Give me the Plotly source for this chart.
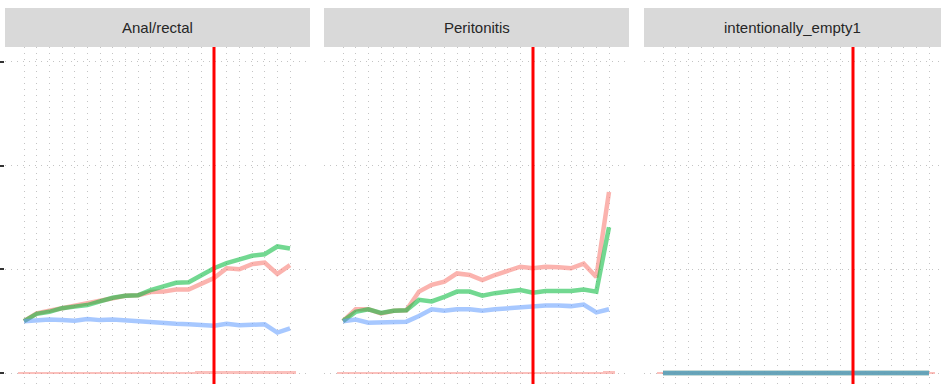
import plotly.graph_objects as go

# Years on the x axis; the vertical marker sits at the intervention year
years = list(range(2000, 2022))
marker_year = 2015

panels = ["Anal/rectal", "Peritonitis", "intentionally_empty1"]

# Relative index per series (1 = baseline year)
anal_red = [1.00, 1.15, 1.20, 1.25, 1.29, 1.34, 1.39, 1.46, 1.49, 1.50, 1.56,
            1.57, 1.61, 1.61, 1.73, 1.83, 2.02, 2.00, 2.10, 2.13, 1.91, 2.08]
anal_green = [1.00, 1.14, 1.18, 1.25, 1.28, 1.31, 1.38, 1.45, 1.49, 1.50, 1.60,
              1.66, 1.74, 1.75, 1.89, 2.02, 2.12, 2.18, 2.26, 2.29, 2.44, 2.40]
anal_blue = [1.00, 1.02, 1.03, 1.02, 1.01, 1.04, 1.02, 1.03, 1.01, 1.00, 0.97,
             0.96, 0.95, 0.94, 0.93, 0.91, 0.95, 0.92, 0.93, 0.94, 0.78, 0.86]

perit_red = [1.00, 1.23, 1.23, 1.15, 1.20, 1.21, 1.57, 1.70, 1.76, 1.92, 1.89,
             1.79, 1.89, 1.97, 2.05, 2.02, 2.05, 2.04, 2.02, 2.11, 1.85, 3.49]
perit_green = [1.00, 1.18, 1.23, 1.16, 1.20, 1.21, 1.41, 1.38, 1.47, 1.57, 1.57,
               1.49, 1.54, 1.58, 1.60, 1.55, 1.58, 1.58, 1.58, 1.61, 1.57, 2.81]
perit_blue = [1.00, 1.03, 0.97, 0.98, 0.99, 0.99, 1.10, 1.23, 1.20, 1.23, 1.23,
              1.20, 1.23, 1.25, 1.28, 1.30, 1.30, 1.30, 1.29, 1.32, 1.17, 1.23]

empty_red = [0.0] * 22
empty_green = [0.0] * 22
empty_blue = [0.0] * 22

# Small case-count bars along the baseline
anal_counts = [0.02] * 14 + [0.035] * 8
perit_counts = [0.006] * 21 + [0.03]
empty_counts = [0.01] * 22

series = [
    (anal_red, anal_green, anal_blue, anal_counts),
    (perit_red, perit_green, perit_blue, perit_counts),
    (empty_red, empty_green, empty_blue, empty_counts),
]

y_ticks = [0, 2, 4, 6]

W, H = 941, 384
panel_px = [(5, 310), (324, 629), (644, 941)]
strip_top, strip_bottom = 8, 47

RED, GREEN, BLUE = "#F8766D", "#00BA38", "#619CFF"
GRID = "#c4c4c4"

fig = go.Figure()

for i, (r, g, b, counts) in enumerate(series):
    xa = "x" if i == 0 else f"x{i+1}"
    ya = "y" if i == 0 else f"y{i+1}"
    fig.add_trace(go.Bar(x=years, y=counts, xaxis=xa, yaxis=ya,
                         marker=dict(color=RED, line=dict(width=0)),
                         opacity=0.45, width=1.0, showlegend=False,
                         hoverinfo="skip"))
    for vals, col in ((r, RED), (g, GREEN), (b, BLUE)):
        fig.add_trace(go.Scatter(x=years, y=vals, xaxis=xa, yaxis=ya,
                                 mode="lines",
                                 line=dict(color=col, width=4.5),
                                 opacity=0.55, showlegend=False))

layout = dict(
    width=W, height=H,
    margin=dict(l=0, r=0, t=0, b=0),
    paper_bgcolor="white", plot_bgcolor="white",
    bargap=0, barmode="overlay",
    shapes=[], annotations=[],
)

x_step = 266 / 21  # pixels per year
y_top = 1 - strip_bottom / H

for i, (x0, x1) in enumerate(panel_px):
    sfx = "" if i == 0 else str(i + 1)
    first_px = x0 + 19
    lo = years[0] - (first_px - x0) / x_step
    hi = years[0] + (x1 - first_px) / x_step
    layout[f"xaxis{sfx}"] = dict(
        domain=[x0 / W, x1 / W], range=[lo, hi],
        anchor=f"y{sfx}", tickmode="array", tickvals=years,
        showticklabels=False, ticks="",
        showgrid=True, gridcolor=GRID, griddash="1px,5px", gridwidth=1,
        zeroline=False, showline=False,
    )
    layout[f"yaxis{sfx}"] = dict(
        domain=[0, y_top], range=[-0.212, 6.287],
        anchor=f"x{sfx}", tickmode="array", tickvals=y_ticks,
        showticklabels=False,
        ticks="outside" if i == 0 else "", ticklen=5, tickwidth=1.5,
        tickcolor="#333333",
        showgrid=True, gridcolor=GRID, griddash="1px,5px", gridwidth=1,
        zeroline=False, showline=False,
    )
    # facet strip
    layout["shapes"].append(dict(
        type="rect", xref="paper", yref="paper",
        x0=x0 / W, x1=x1 / W, y0=1 - strip_bottom / H, y1=1 - strip_top / H,
        fillcolor="#D9D9D9", line=dict(width=0), layer="below"))
    layout["annotations"].append(dict(
        text=panels[i], xref="paper", yref="paper",
        x=(x0 + x1) / 2 / W, y=1 - (strip_top + strip_bottom) / 2 / H,
        xanchor="center", yanchor="middle", showarrow=False,
        font=dict(family="Liberation Sans, Arial, sans-serif", size=15,
                  color="#262626")))
    # intervention marker
    layout["shapes"].append(dict(
        type="line", xref=f"x{sfx}", yref="paper",
        x0=marker_year, x1=marker_year, y0=0, y1=y_top,
        line=dict(color="#FF0000", width=3)))

fig.update_layout(**layout)
fig.write_html("out.html")
